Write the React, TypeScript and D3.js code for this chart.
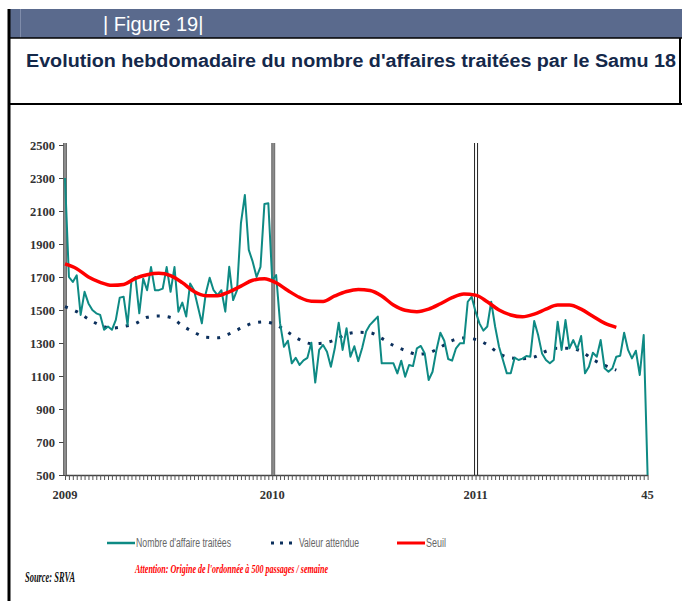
import React, { useEffect, useRef } from "react";
import * as d3 from "d3";

// weekly count, week 1 of 2009 to week 45 of 2011
const affaires = [
  2300, 1700, 1670, 1710, 1470, 1610, 1540, 1500, 1480, 1470,
  1380, 1400, 1380, 1440, 1575, 1580, 1410, 1680, 1700, 1480,
  1690, 1620, 1760, 1620, 1620, 1630, 1760, 1610, 1760, 1490,
  1545, 1460, 1660, 1620, 1520, 1419, 1600, 1695, 1620, 1590,
  1620, 1490, 1762, 1560, 1620, 2027, 2197, 1864, 1793, 1700,
  1762, 2142, 2147, 1680, 1712, 1420, 1277, 1314, 1177, 1210,
  1167, 1195, 1210, 1302, 1060, 1258, 1288, 1247, 1156, 1268,
  1423, 1258, 1390, 1217, 1280, 1190, 1270, 1370, 1410, 1435,
  1460, 1177, 1177, 1177, 1177, 1116, 1193, 1096, 1167, 1160,
  1268, 1282, 1237, 1076, 1126, 1258, 1362, 1314, 1203, 1193,
  1268, 1298, 1298, 1550, 1580, 1490, 1419, 1375, 1400, 1550,
  1400, 1277, 1197, 1116, 1116, 1211, 1197, 1205, 1221, 1217,
  1433, 1348, 1237, 1197, 1177, 1197, 1429, 1258, 1439, 1268,
  1318, 1262, 1342, 1116, 1156, 1241, 1217, 1318, 1147, 1126,
  1147, 1217, 1223, 1362, 1258, 1207, 1253, 1106, 1348, 500,
];

// weeks where the expected value and threshold were read
const sampleWeeks = [
  0, 3, 6, 9, 12, 15, 18, 21, 24, 27, 30, 33, 36, 39, 42, 45,
  48, 51, 54, 57, 60, 63, 66, 69, 72, 75, 78, 81, 84, 87, 90, 93,
  96, 99, 102, 105, 108, 111, 114, 117, 120, 123, 126, 129, 132, 135, 138, 141,
];

const valeurAttendue = [
  1520, 1490, 1445, 1408, 1390, 1400, 1418, 1456, 1464, 1455,
  1405, 1365, 1335, 1332, 1355, 1390, 1420, 1428, 1410, 1365,
  1320, 1296, 1300, 1318, 1354, 1365, 1362, 1328, 1285, 1255,
  1232, 1240, 1275, 1315, 1330, 1322, 1290, 1237, 1210, 1205,
  1215, 1250, 1268, 1268, 1250, 1200, 1165, 1136,
];

const seuil = [
  1779, 1750, 1700, 1668, 1650, 1655, 1692, 1714, 1722, 1708,
  1666, 1612, 1587, 1587, 1610, 1645, 1680, 1690, 1665, 1618,
  1576, 1553, 1552, 1585, 1612, 1625, 1618, 1585, 1530, 1498,
  1490, 1505, 1538, 1575, 1597, 1590, 1550, 1500, 1470, 1459,
  1475, 1505, 1530, 1530, 1505, 1462, 1420, 1395,
];

const yTicks = [500, 700, 900, 1100, 1300, 1500, 1700, 1900, 2100, 2300, 2500];
const xLabels = [
  { week: 0, label: "2009" },
  { week: 53, label: "2010" },
  { week: 105, label: "2011" },
  { week: 149, label: "45" },
];

const TEAL = "#0e8a84";
const NAVY = "#0b2f5c";
const RED = "#ff0000";

const App = () => {
  const ref = useRef(null);

  useEffect(() => {
    const svg = d3.select(ref.current);
    svg.selectAll("*").remove();

    // frame and header
    svg.append("rect").attr("x", 8).attr("y", 9).attr("width", 674).attr("height", 29).attr("fill", "#5a6a8d");
    svg.append("line").attr("x1", 20.5).attr("x2", 20.5).attr("y1", 9).attr("y2", 38).attr("stroke", "#7f8caa").attr("stroke-width", 1);
    svg.append("text").attr("x", 103).attr("y", 31).attr("fill", "#fff")
      .attr("font-family", "Liberation Sans, Arial, sans-serif").attr("font-size", 20).text("| Figure 19|");
    svg.append("line").attr("x1", 8).attr("x2", 682).attr("y1", 38).attr("y2", 38).attr("stroke", "#000").attr("stroke-width", 1.5);
    svg.append("line").attr("x1", 8).attr("x2", 682).attr("y1", 104).attr("y2", 104).attr("stroke", "#000").attr("stroke-width", 2);
    svg.append("line").attr("x1", 680).attr("x2", 680).attr("y1", 38).attr("y2", 104).attr("stroke", "#000").attr("stroke-width", 2);
    svg.append("line").attr("x1", 9).attr("x2", 9).attr("y1", 9).attr("y2", 601).attr("stroke", "#000").attr("stroke-width", 3);
    svg.append("text").attr("x", 26).attr("y", 67).attr("fill", "#14284a")
      .attr("font-family", "Liberation Sans, Arial, sans-serif").attr("font-weight", "bold").attr("font-size", 18)
      .attr("textLength", 650).attr("lengthAdjust", "spacingAndGlyphs")
      .text("Evolution hebdomadaire du nombre d'affaires traitées par le Samu 18");

    // scales
    const x = d3.scaleLinear().domain([0, 149]).range([65, 647.6]);
    const y = d3.scaleLinear().domain([500, 2500]).range([475, 145]);

    // y axis labels and ticks
    const yAxis = svg.append("g").attr("transform", "translate(65,0)")
      .call(d3.axisLeft(y).tickValues(yTicks).tickSize(6).tickSizeOuter(0).tickPadding(4).tickFormat(d3.format("d")));
    yAxis.select(".domain").remove();
    yAxis.selectAll("line").attr("stroke", "#444");
    yAxis.selectAll("text").attr("font-family", "Liberation Serif, Times New Roman, serif")
      .attr("font-weight", "bold").attr("font-size", 12.5).attr("fill", "#333");

    // x axis weekly ticks
    const xAxis = svg.append("g").attr("transform", "translate(0,475)")
      .call(d3.axisBottom(x).tickValues(d3.range(0, 150)).tickSize(5).tickSizeOuter(0).tickFormat(() => ""));
    xAxis.select(".domain").attr("stroke", "#444").attr("stroke-width", 1.5);
    xAxis.selectAll("line").attr("stroke", "#555");

    svg.append("g").selectAll("text").data(xLabels).join("text")
      .attr("x", (d) => x(d.week)).attr("y", 499).attr("text-anchor", "middle")
      .attr("font-family", "Liberation Serif, Times New Roman, serif").attr("font-weight", "bold")
      .attr("font-size", 12.5).attr("fill", "#333").text((d) => d.label);

    // year separators
    const sep = svg.append("g");
    [0, 53].forEach((w) => {
      const cx = x(w) + (w === 0 ? 0 : 1);
      sep.append("rect").attr("x", cx - 1.5).attr("y", 143).attr("width", 3).attr("height", 332).attr("fill", "#8c8c8c");
      sep.append("line").attr("x1", cx - 1.5).attr("x2", cx - 1.5).attr("y1", 143).attr("y2", 475).attr("stroke", "#555").attr("stroke-width", 0.8);
      sep.append("line").attr("x1", cx + 1.5).attr("x2", cx + 1.5).attr("y1", 143).attr("y2", 475).attr("stroke", "#555").attr("stroke-width", 0.8);
    });
    const c11 = x(105) + 0.5;
    sep.append("line").attr("x1", c11 - 1.5).attr("x2", c11 - 1.5).attr("y1", 143).attr("y2", 475).attr("stroke", "#222").attr("stroke-width", 1);
    sep.append("line").attr("x1", c11 + 1.5).attr("x2", c11 + 1.5).attr("y1", 143).attr("y2", 475).attr("stroke", "#222").attr("stroke-width", 1);

    // series
    const lineWeekly = d3.line().x((d, i) => x(i)).y((d) => y(d));
    const lineSampled = d3.line().x((d, i) => x(sampleWeeks[i])).y((d) => y(d)).curve(d3.curveMonotoneX);

    svg.append("path").datum(valeurAttendue).attr("d", lineSampled).attr("fill", "none")
      .attr("stroke", NAVY).attr("stroke-width", 3).attr("stroke-dasharray", "3 8");
    svg.append("path").datum(affaires).attr("d", lineWeekly).attr("fill", "none")
      .attr("stroke", TEAL).attr("stroke-width", 2).attr("stroke-linejoin", "round");
    svg.append("path").datum(seuil).attr("d", lineSampled).attr("fill", "none")
      .attr("stroke", RED).attr("stroke-width", 3.5);

    // legend
    const legend = [
      { x1: 107, x2: 135, color: TEAL, dash: null, w: 2.5, label: "Nombre d'affaire traitées", len: 95 },
      { x1: 271, x2: 298, color: NAVY, dash: "3 6", w: 3, label: "Valeur attendue", len: 60 },
      { x1: 397, x2: 425, color: RED, dash: null, w: 3, label: "Seuil", len: 20 },
    ];
    const lg = svg.append("g");
    legend.forEach((l) => {
      lg.append("line").attr("x1", l.x1).attr("x2", l.x2).attr("y1", 543).attr("y2", 543)
        .attr("stroke", l.color).attr("stroke-width", l.w).attr("stroke-dasharray", l.dash);
      lg.append("text").attr("x", l.x2 + 1).attr("y", 547).attr("fill", "#666")
        .attr("font-family", "Liberation Sans, Arial, sans-serif").attr("font-size", 12)
        .attr("textLength", l.len).attr("lengthAdjust", "spacingAndGlyphs").text(l.label);
    });

    // notes
    svg.append("text").attr("x", 25).attr("y", 582).attr("fill", "#111")
      .attr("font-family", "Liberation Serif, Times New Roman, serif").attr("font-weight", "bold").attr("font-style", "italic")
      .attr("font-size", 14).attr("textLength", 50).attr("lengthAdjust", "spacingAndGlyphs").text("Source: SRVA");
    svg.append("text").attr("x", 135).attr("y", 573).attr("fill", RED)
      .attr("font-family", "Liberation Serif, Times New Roman, serif").attr("font-weight", "bold").attr("font-style", "italic")
      .attr("font-size", 13).attr("textLength", 193).attr("lengthAdjust", "spacingAndGlyphs")
      .text("Attention: Origine de l'ordonnée à 500 passages / semaine");
  }, []);

  return (
    <svg ref={ref} width={682} height={601} style={{ position: "absolute", left: 0, top: 0, background: "#fff" }} />
  );
};

export default App;
